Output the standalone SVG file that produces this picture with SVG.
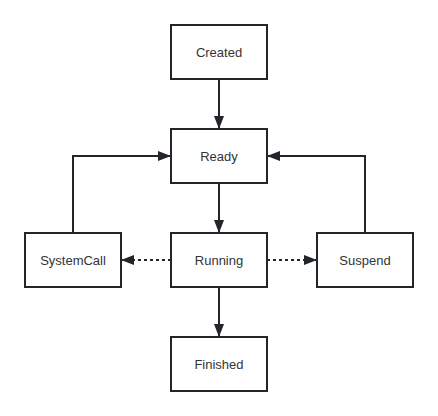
<svg xmlns="http://www.w3.org/2000/svg" width="438" height="416" viewBox="0 0 438 416">
<style>
.box{fill:#ffffff;stroke:#222529;stroke-width:2}
.lbl{font-family:"Liberation Sans","Noto Sans",Arial,sans-serif;font-size:13px;fill:#333333;text-anchor:middle;dominant-baseline:central}
.edge{fill:none;stroke:#222529;stroke-width:2}
.dot{stroke-dasharray:3 3}
</style>
<defs>
<marker id="ah" viewBox="0 0 13 10" refX="13" refY="5" markerWidth="13" markerHeight="10" markerUnits="userSpaceOnUse" orient="auto">
<path d="M0,0 L13,5 L0,10 Z" fill="#222529"/>
</marker>
</defs>
<rect width="438" height="416" fill="#ffffff"/>
<g id="connectors">
<path class="edge" d="M219,79 L219,129" marker-end="url(#ah)"/>
<path class="edge" d="M219,183 L219,233" marker-end="url(#ah)"/>
<path class="edge" d="M219,287 L219,337" marker-end="url(#ah)"/>
<path class="edge" d="M73,233 L73,156 L171,156" marker-end="url(#ah)"/>
<path class="edge" d="M365,233 L365,156 L267,156" marker-end="url(#ah)"/>
<path class="edge dot" d="M171,260 L121,260" marker-end="url(#ah)"/>
<path class="edge dot" d="M267,260 L317,260" marker-end="url(#ah)"/>
</g>
<g id="created"><rect class="box" x="171" y="25" width="96" height="54"/><text class="lbl" x="219" y="52">Created</text></g>
<g id="ready"><rect class="box" x="171" y="129" width="96" height="54"/><text class="lbl" x="219" y="156">Ready</text></g>
<g id="running"><rect class="box" x="171" y="233" width="96" height="54"/><text class="lbl" x="219" y="260">Running</text></g>
<g id="finished"><rect class="box" x="171" y="337" width="96" height="54"/><text class="lbl" x="219" y="364">Finished</text></g>
<g id="systemcall"><rect class="box" x="25" y="233" width="96" height="54"/><text class="lbl" x="73" y="260">SystemCall</text></g>
<g id="suspend"><rect class="box" x="317" y="233" width="96" height="54"/><text class="lbl" x="365" y="260">Suspend</text></g>
</svg>
